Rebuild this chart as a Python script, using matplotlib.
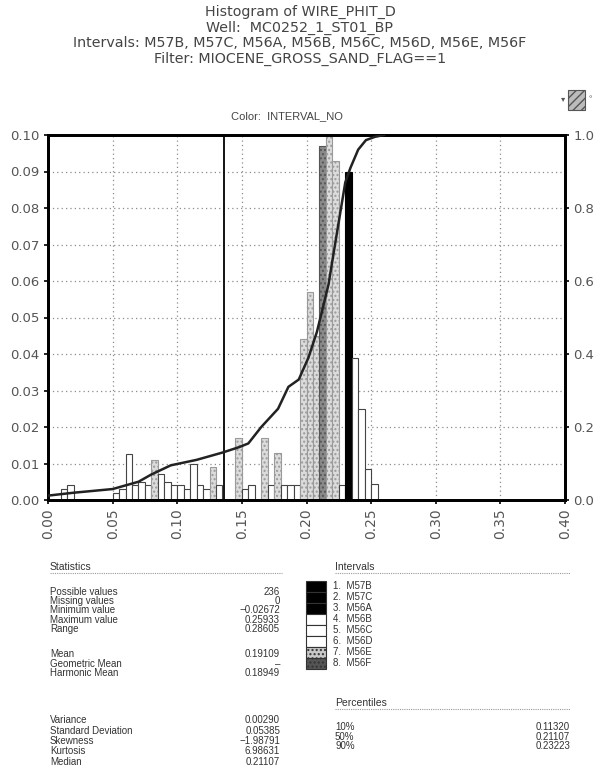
import numpy as np
import matplotlib.pyplot as plt
from matplotlib.patches import Rectangle

plt.rcParams['font.family'] = ['Liberation Sans', 'DejaVu Sans']

# histogram bins (left edge), bin heights and interval colour group
bin_left = [0.010, 0.015, 0.050, 0.055, 0.060, 0.065, 0.070, 0.075, 0.080, 0.085,
            0.090, 0.095, 0.100, 0.105, 0.110, 0.115, 0.120, 0.125, 0.130, 0.145,
            0.150, 0.155, 0.165, 0.170, 0.175, 0.180, 0.185, 0.190, 0.195, 0.200,
            0.205, 0.210, 0.215, 0.220, 0.225, 0.230, 0.235, 0.240, 0.245, 0.250]
bin_height = [0.003, 0.004, 0.002, 0.003, 0.0125, 0.004, 0.005, 0.004, 0.011, 0.007,
              0.005, 0.004, 0.004, 0.003, 0.010, 0.004, 0.003, 0.009, 0.004, 0.017,
              0.003, 0.004, 0.017, 0.004, 0.013, 0.004, 0.004, 0.004, 0.044, 0.057,
              0.045, 0.097, 0.110, 0.093, 0.004, 0.090, 0.039, 0.025, 0.0085, 0.0045]
bin_group = ['w', 'w', 'w', 'w', 'w', 'w', 'w', 'w', 'l', 'w',
             'w', 'w', 'w', 'w', 'w', 'w', 'w', 'l', 'w', 'l',
             'w', 'w', 'l', 'w', 'l', 'w', 'w', 'w', 'l', 'l',
             'l', 'd', 'l', 'l', 'w', 'k', 'w', 'w', 'w', 'w']

# cumulative curve (right axis)
cdf_x = [0.000, 0.020, 0.050, 0.060, 0.070, 0.080, 0.095, 0.115, 0.135, 0.148,
         0.155, 0.165, 0.178, 0.186, 0.194, 0.2015, 0.208, 0.2115, 0.217, 0.223,
         0.230, 0.234, 0.240, 0.246, 0.253, 0.260]
cdf_y = [0.012, 0.020, 0.030, 0.040, 0.050, 0.070, 0.095, 0.110, 0.130, 0.145,
         0.155, 0.200, 0.250, 0.310, 0.330, 0.390, 0.460, 0.510, 0.590, 0.720,
         0.870, 0.910, 0.960, 0.986, 0.995, 1.000]

cut_x = 0.136

titles = ['Histogram of WIRE_PHIT_D',
          'Well:  MC0252_1_ST01_BP',
          'Intervals: M57B, M57C, M56A, M56B, M56C, M56D, M56E, M56F',
          'Filter: MIOCENE_GROSS_SAND_FLAG==1']

stat_names = [['Possible values', 'Missing values', 'Minimum value', 'Maximum value', 'Range'],
              ['Mean', 'Geometric Mean', 'Harmonic Mean'],
              ['Variance', 'Standard Deviation', 'Skewness', 'Kurtosis', 'Median']]
stat_values = [['236', '0', '\u22120.02672', '0.25933', '0.28605'],
               ['0.19109', '\u2013', '0.18949'],
               ['0.00290', '0.05385', '\u22121.98791', '6.98631', '0.21107']]

interval_names = ['1.  M57B', '2.  M57C', '3.  M56A', '4.  M56B',
                  '5.  M56C', '6.  M56D', '7.  M56E', '8.  M56F']
interval_colors = ['black', 'black', 'black', 'white', 'white', 'white', '#c8c8c8', '#555555']

pct_names = ['10%', '50%', '90%']
pct_values = ['0.11320', '0.21107', '0.23223']

face = {'w': 'white', 'l': '#dcdcdc', 'd': '#8a8a8a', 'k': 'black'}
edge = {'w': '#444444', 'l': '#9a9a9a', 'd': '#555555', 'k': 'black'}

fig = plt.figure(figsize=(6.03, 7.76), dpi=100)
W, H = 603.0, 776.0

def fx(px):
    return px / W

def fy(py):
    return 1 - py / H

wide = ['DejaVu Sans']

ax = fig.add_axes([fx(48), fy(500), fx(565) - fx(48), fy(135) - fy(500)])
ax.set_xlim(0, 0.40)
ax.set_ylim(0, 0.10)

for xl, h, g in zip(bin_left, bin_height, bin_group):
    ax.bar(xl, h, width=0.005, align='edge', color=face[g], edgecolor=edge[g],
           linewidth=0.8, zorder=2, hatch='....' if g in ('l', 'd') else None)

ax.axvline(cut_x, color='black', lw=1.3, zorder=3)

ax.set_xticks(np.arange(0, 0.401, 0.05))
ax.set_xticklabels(['%.2f' % v for v in np.arange(0, 0.401, 0.05)], rotation=90, fontsize=10,
                   color='#555555', family=wide)
ax.set_yticks(np.arange(0, 0.101, 0.01))
ax.set_yticklabels(['%.2f' % v for v in np.arange(0, 0.101, 0.01)], fontsize=9.5,
                   color='#555555', family=wide)
ax.tick_params(direction='out', length=3, width=1.2, pad=3)
ax.grid(True, color='#8c8c8c', linestyle=(0, (1, 2.5)), linewidth=0.9, zorder=1)
ax.set_axisbelow(True)
for s in ax.spines.values():
    s.set_linewidth(2)

ax2 = ax.twinx()
ax2.set_ylim(0, 1.0)
ax2.plot(cdf_x, cdf_y, color='#222222', lw=1.8, zorder=4)
ax2.set_yticks(np.arange(0, 1.01, 0.2))
ax2.set_yticklabels(['%.1f' % v for v in np.arange(0, 1.01, 0.2)], fontsize=9.5,
                    color='#555555', family=wide)
ax2.tick_params(direction='out', length=3, width=1.2, pad=3)
for s in ax2.spines.values():
    s.set_linewidth(2)

# titles
for i, t in enumerate(titles):
    fig.text(fx(300), fy(12 + 15.5 * i), t, ha='center', va='center', fontsize=10.3,
             color='#444444', family=wide)
fig.text(fx(287), fy(116), 'Color:  INTERVAL_NO', ha='center', va='center', fontsize=8,
         color='#444444')

# small colour-key icon
fig.text(fx(563), fy(100), '\u25be', ha='center', va='center', fontsize=6, color='#555555')
fig.patches.append(Rectangle((fx(568), fy(110)), fx(17), fy(90) - fy(110), transform=fig.transFigure,
                             facecolor='#bbbbbb', edgecolor='#555555', hatch='////', lw=0.8))
fig.text(fx(590), fy(100), '\u00b0', ha='center', va='center', fontsize=6, color='#555555')

# statistics block
fig.text(fx(50), fy(567), 'Statistics', ha='left', va='center', fontsize=7.5, color='#333333')
fig.lines.append(plt.Line2D([fx(50), fx(282)], [fy(573), fy(573)], transform=fig.transFigure,
                            color='#999999', lw=0.8, linestyle=(0, (1, 1))))
row_y = [[592, 601, 610, 620, 629], [654, 664, 673], [720, 731, 741, 751, 762]]
for names, vals, ys in zip(stat_names, stat_values, row_y):
    for n, v, y in zip(names, vals, ys):
        fig.text(fx(50), fy(y), n, ha='left', va='center', fontsize=7, color='#333333')
        fig.text(fx(280), fy(y), v, ha='right', va='center', fontsize=7, color='#333333')

# intervals legend
fig.text(fx(335), fy(567), 'Intervals', ha='left', va='center', fontsize=7.5, color='#333333')
fig.lines.append(plt.Line2D([fx(335), fx(570)], [fy(573), fy(573)], transform=fig.transFigure,
                            color='#999999', lw=0.8, linestyle=(0, (1, 1))))
for i, (n, c) in enumerate(zip(interval_names, interval_colors)):
    y0 = 581 + 11 * i
    fig.patches.append(Rectangle((fx(306), fy(y0 + 10.5)), fx(20), fy(y0) - fy(y0 + 10.5),
                                 transform=fig.transFigure, facecolor=c, edgecolor='#333333', lw=0.8,
                                 hatch='....' if i >= 6 else None))
    fig.text(fx(333), fy(y0 + 5), n, ha='left', va='center', fontsize=7, color='#333333')

# percentiles
fig.text(fx(335), fy(703), 'Percentiles', ha='left', va='center', fontsize=7.5, color='#333333')
fig.lines.append(plt.Line2D([fx(335), fx(570)], [fy(709), fy(709)], transform=fig.transFigure,
                            color='#999999', lw=0.8, linestyle=(0, (1, 1))))
for i, (n, v) in enumerate(zip(pct_names, pct_values)):
    y = 727 + 9.5 * i
    fig.text(fx(335), fy(y), n, ha='left', va='center', fontsize=7, color='#333333')
    fig.text(fx(570), fy(y), v, ha='right', va='center', fontsize=7, color='#333333')

fig.savefig('out.png', dpi=100)
